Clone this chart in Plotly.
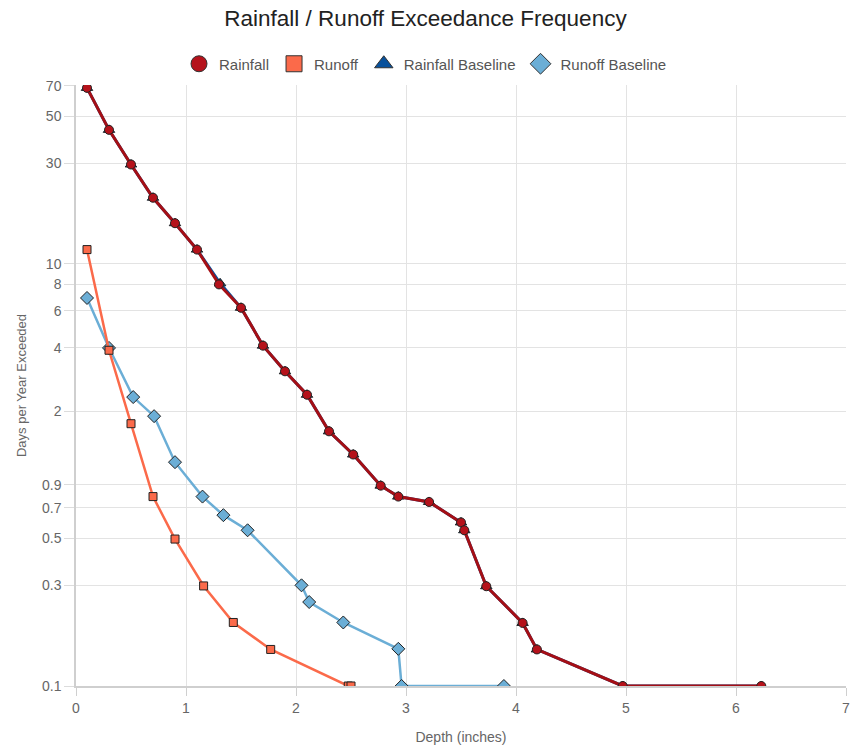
import math
import plotly.graph_objects as go

# Rainfall depth (inches) vs. days per year exceeded
rain_depth = [0.1, 0.3, 0.5, 0.7, 0.9, 1.1, 1.3, 1.5, 1.7, 1.9, 2.1, 2.3, 2.52, 2.77,
              2.93, 3.21, 3.5, 3.53, 3.73, 4.06, 4.19, 4.97, 6.23]
rain_days = [68.3, 43.2, 29.6, 20.6, 15.6, 11.7, 8.0, 6.2, 4.1, 3.1, 2.4, 1.61, 1.25,
             0.89, 0.79, 0.745, 0.596, 0.547, 0.297, 0.199, 0.149, 0.1, 0.1]

# Baseline rainfall curve (same record)
rain_base_depth = [0.1, 0.3, 0.5, 0.7, 0.9, 1.1, 1.31, 1.5, 1.7, 1.9, 2.1, 2.3, 2.52, 2.77,
                   2.93, 3.21, 3.5, 3.53, 3.73, 4.06, 4.19, 4.97, 6.23]
rain_base_days = [68.3, 43.2, 29.6, 20.6, 15.6, 11.7, 8.1, 6.2, 4.1, 3.1, 2.4, 1.61, 1.25,
                  0.89, 0.79, 0.745, 0.596, 0.547, 0.297, 0.199, 0.149, 0.1, 0.1]

# Runoff
runoff_depth = [0.1, 0.3, 0.5, 0.7, 0.9, 1.16, 1.43, 1.77, 2.475, 2.5]
runoff_days = [11.7, 3.9, 1.75, 0.79, 0.497, 0.298, 0.2, 0.149, 0.1, 0.1]

# Baseline runoff
runoff_base_depth = [0.1, 0.3, 0.52, 0.71, 0.9, 1.15, 1.34, 1.56, 2.05, 2.12, 2.43, 2.93,
                     2.96, 3.89]
runoff_base_days = [6.9, 4.0, 2.34, 1.9, 1.15, 0.79, 0.645, 0.547, 0.3, 0.25, 0.2, 0.15,
                    0.1, 0.1]

y_tick_vals = [0.1, 0.3, 0.5, 0.7, 0.9, 2, 4, 6, 8, 10, 30, 50, 70]
y_tick_text = ["0.1", "0.3", "0.5", "0.7", "0.9", "2", "4", "6", "8", "10", "30", "50", "70"]
x_tick_vals = [0, 1, 2, 3, 4, 5, 6, 7]

C_RAIN = "#a50f15"
C_RAIN_MK = "#b5121b"
C_RUNOFF = "#fb6a4a"
C_RAIN_BASE = "#08519c"
C_RUNOFF_BASE = "#6baed6"
FONT = "Liberation Sans, Arial, sans-serif"

fig = go.Figure()

# (name, x, y, line colour, fill colour, symbol, line width, marker size)
series = [
    ("Runoff Baseline", runoff_base_depth, runoff_base_days, C_RUNOFF_BASE, C_RUNOFF_BASE, "diamond", 2.5, 10),
    ("Runoff", runoff_depth, runoff_days, C_RUNOFF, C_RUNOFF, "square", 2.5, 8),
    ("Rainfall Baseline", rain_base_depth, rain_base_days, C_RAIN_BASE, C_RAIN_BASE, "triangle-up", 3, 10),
    ("Rainfall", rain_depth, rain_days, C_RAIN, C_RAIN_MK, "circle", 3, 9),
]
for name, xs, ys, lc, fc, sym, lw, ms in series:
    fig.add_trace(go.Scatter(
        x=xs, y=ys, mode="lines+markers", name=name, legendgroup=name, showlegend=False,
        line=dict(color=lc, width=lw),
        marker=dict(symbol=sym, size=ms, color=fc, line=dict(color="#222", width=1)),
    ))

# Legend entries with enlarged symbols
legend_items = [
    ("Rainfall", C_RAIN_MK, "circle"),
    ("Runoff", C_RUNOFF, "square"),
    ("Rainfall Baseline", C_RAIN_BASE, "triangle-up"),
    ("Runoff Baseline", C_RUNOFF_BASE, "diamond"),
]
for name, col, sym in legend_items:
    fig.add_trace(go.Scatter(
        x=[None], y=[None], mode="markers", name=name, legendgroup=name,
        marker=dict(symbol=sym, size=16, color=col, line=dict(color="#333", width=1)),
    ))

fig.update_layout(
    width=851, height=751,
    margin=dict(l=76, r=5, t=85, b=65, autoexpand=False),
    paper_bgcolor="white", plot_bgcolor="white",
    font=dict(family=FONT, color="#666", size=14),
    title=dict(text="Rainfall / Runoff Exceedance Frequency", x=0.5, xanchor="center",
               xref="container", y=1 - 18 / 751, yanchor="middle", yref="container",
               font=dict(size=22.5, color="#222", family=FONT)),
    legend=dict(orientation="h", x=0.5, xanchor="center", xref="container",
                y=1 - 64 / 751, yanchor="middle", yref="container",
                font=dict(size=15, color="#555"), itemsizing="trace", itemwidth=30,
                traceorder="normal", bgcolor="rgba(0,0,0,0)"),
    showlegend=True,
)

fig.update_xaxes(
    range=[0, 7], tickvals=x_tick_vals, showgrid=True, gridcolor="#e3e3e3", gridwidth=1,
    zeroline=False, showline=True, linecolor="#cfcfcf", linewidth=1.5, automargin=False,
    ticks="outside", ticklen=8, tickcolor="#cfcfcf", tickfont=dict(size=14, color="#666"),
    title=dict(text="Depth (inches)", font=dict(size=14, color="#666"), standoff=18),
)
fig.update_yaxes(
    type="log", range=[-1, math.log10(70) + 0.003], tickvals=y_tick_vals, ticktext=y_tick_text,
    showgrid=True, gridcolor="#e3e3e3", gridwidth=1, zeroline=False, automargin=False,
    showline=True, linecolor="#cfcfcf", linewidth=1.5,
    ticks="outside", ticklen=10, tickcolor="#dcdcdc", tickfont=dict(size=14, color="#666"),
    title=dict(text="Days per Year Exceeded", font=dict(size=13, color="#666"), standoff=12),
)

fig.write_html("out.html")
